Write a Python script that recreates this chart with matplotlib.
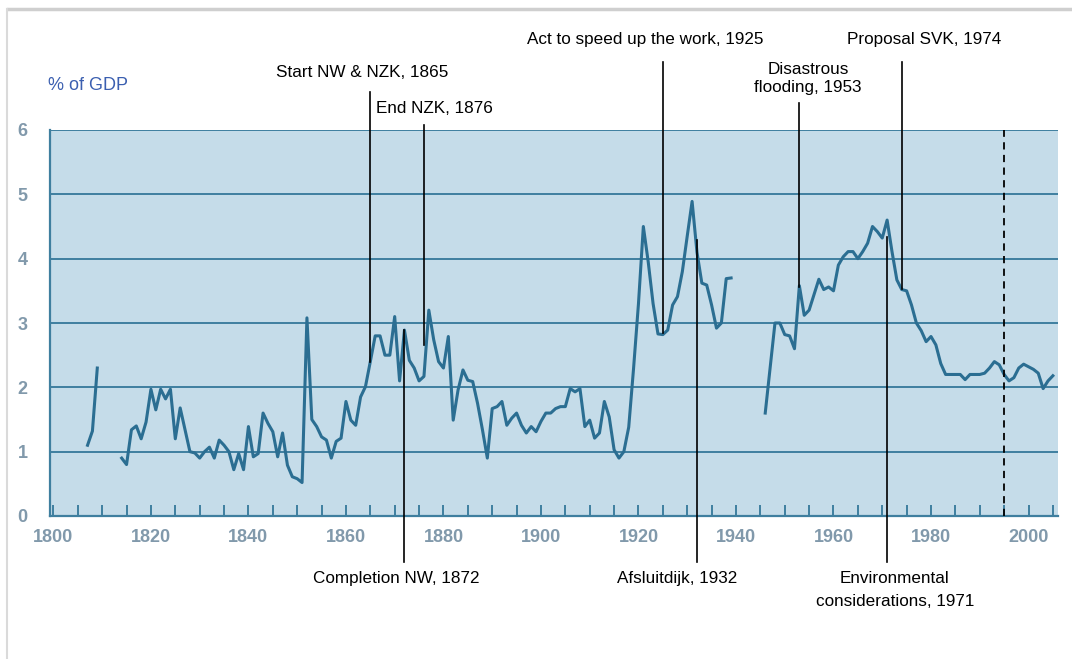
import numpy as np
import matplotlib.pyplot as plt
from matplotlib.lines import Line2D

# Dutch water-works spending, % of GDP
years_a = [1807, 1808, 1809]
vals_a = [1.1, 1.32, 2.3]

years_b = list(range(1814, 1940))
vals_b = [0.9, 0.8, 1.34, 1.4, 1.2, 1.46, 1.97, 1.65, 1.97, 1.82,   # 1814-1823
          1.97, 1.2, 1.68, 1.34, 1.0, 0.98, 0.9, 1.0, 1.07, 0.9,     # 1824-1833
          1.18, 1.1, 1.0, 0.72, 0.97, 0.72, 1.39, 0.92, 0.97, 1.6,   # 1834-1843
          1.44, 1.31, 0.92, 1.29, 0.79, 0.61, 0.58, 0.52, 3.08, 1.5, # 1844-1853
          1.39, 1.23, 1.18, 0.9, 1.16, 1.21, 1.78, 1.49, 1.41, 1.85, # 1854-1863
          2.01, 2.4, 2.8, 2.8, 2.5, 2.5, 3.1, 2.1, 2.89, 2.42,       # 1864-1873
          2.3, 2.1, 2.17, 3.2, 2.74, 2.4, 2.3, 2.79, 1.49, 1.96,     # 1874-1883
          2.27, 2.11, 2.09, 1.75, 1.34, 0.9, 1.67, 1.7, 1.78, 1.41,  # 1884-1893
          1.52, 1.6, 1.41, 1.29, 1.39, 1.31, 1.47, 1.6, 1.6, 1.67,   # 1894-1903
          1.7, 1.7, 1.98, 1.93, 1.98, 1.39, 1.49, 1.21, 1.29, 1.78,  # 1904-1913
          1.54, 1.03, 0.9, 1.0, 1.38, 2.3, 3.3, 4.5, 3.95, 3.3,      # 1914-1923
          2.83, 2.82, 2.89, 3.28, 3.41, 3.8, 4.35, 4.89, 4.1, 3.62,  # 1924-1933
          3.59, 3.28, 2.92, 3.0, 3.69, 3.7]                          # 1934-1939

years_c = list(range(1946, 2006))
vals_c = [1.6, 2.3, 3.0, 3.0, 2.82, 2.8, 2.6, 3.58, 3.12, 3.2,       # 1946-1955
          3.44, 3.68, 3.52, 3.56, 3.5, 3.9, 4.03, 4.11, 4.11, 4.0,   # 1956-1965
          4.11, 4.24, 4.5, 4.42, 4.32, 4.6, 4.11, 3.67, 3.52, 3.5,   # 1966-1975
          3.28, 3.0, 2.88, 2.71, 2.79, 2.66, 2.37, 2.2, 2.2, 2.2,    # 1976-1985
          2.2, 2.12, 2.2, 2.2, 2.2, 2.22, 2.3, 2.4, 2.35, 2.2,       # 1986-1995
          2.1, 2.15, 2.3, 2.36, 2.32, 2.28, 2.22, 1.98, 2.1, 2.18]   # 1996-2005

# events marked above the plot
top_labels = ["Start NW & NZK, 1865", "End NZK, 1876", "Act to speed up the work, 1925",
              "Disastrous\nflooding, 1953", "Proposal SVK, 1974"]
top_years = [1865, 1876, 1925, 1953, 1974]
top_hits = [2.4, 2.66, 2.84, 3.56, 3.53]   # where each line meets the series

# events marked below the plot
bot_labels = ["Completion NW, 1872", "Afsluitdijk, 1932", "Environmental\nconsiderations, 1971"]
bot_years = [1872, 1932, 1971]
bot_hits = [2.89, 4.29, 4.34]

forecast_year = 1995

# layout (data units) for the annotation text / line ends
top_line_tops = [6.59, 6.08, 7.06, 6.42, 7.06]
top_text_x = [1863.3, 1878.2, 1921.3, 1954.8, 1978.6]
top_text_y = [6.89, 6.34, 7.40, 6.80, 7.40]
bot_text_x = [1870.4, 1927.9, 1972.6]

bg = "#c5dce9"
grid_c = "#3f7f9f"
line_c = "#2b6e92"
tick_c = "#8199ab"

plt.rcParams['font.family'] = ['Liberation Sans', 'DejaVu Sans']

fig = plt.figure(figsize=(10.72, 6.59), dpi=100)
ax = fig.add_axes([50 / 1072, 1 - 516 / 659, 1008 / 1072, 386 / 659])
ax.set_facecolor(bg)

ax.set_xlim(1799.3, 2006.05)
ax.set_ylim(0, 6)

for y in range(1, 7):
    ax.axhline(y, color=grid_c, lw=1.4, zorder=1)

ax.plot(years_a, vals_a, color=line_c, lw=2.2, zorder=3, solid_joinstyle='round')
ax.plot(years_b, vals_b, color=line_c, lw=2.2, zorder=3, solid_joinstyle='round')
ax.plot(years_c, vals_c, color=line_c, lw=2.2, zorder=3, solid_joinstyle='round')

ax.axvline(forecast_year, color='black', lw=1.3, ls=(0, (4, 3)), zorder=4)

# annotation lines
for yr, hit, top in zip(top_years, top_hits, top_line_tops):
    ax.plot([yr, yr], [hit, top], color='black', lw=1.2, zorder=5, clip_on=False)
for yr, hit in zip(bot_years, bot_hits):
    ax.plot([yr, yr], [-0.72, hit], color='black', lw=1.2, zorder=5, clip_on=False)

for lab, x, y in zip(top_labels, top_text_x, top_text_y):
    ax.text(x, y, lab, ha='center', va='center', fontsize=12.3, color='black',
            linespacing=1.2, clip_on=False)
for lab, x in zip(bot_labels, bot_text_x):
    ax.text(x, -0.86, lab, ha='center', va='top', fontsize=12.3, color='black',
            linespacing=1.6, clip_on=False)

# axes styling
for s in ['top', 'right']:
    ax.spines[s].set_visible(False)
for s in ['left', 'bottom']:
    ax.spines[s].set_color(grid_c)
    ax.spines[s].set_linewidth(1.6)

ax.set_xticks(range(1800, 2001, 20))
ax.set_xticks(range(1805, 2006, 5), minor=True)
ax.tick_params(axis='x', which='both', direction='in', length=8, width=1.4,
               color=grid_c, labelcolor=tick_c, labelsize=13, pad=9)
ax.set_yticks(range(0, 7))
ax.tick_params(axis='y', length=0, labelcolor=tick_c, labelsize=13, pad=16)
for t in ax.get_xticklabels() + ax.get_yticklabels():
    t.set_fontweight('bold')

fig.text(48 / 1072, 1 - 85 / 659, "% of GDP", color="#3b5fb0", fontsize=13, va='center')

# grey frame around the picture
fig.add_artist(Line2D([8 / 1072, 1], [1 - 9 / 659, 1 - 9 / 659], color='#cfcfcf', lw=2.5))
fig.add_artist(Line2D([7 / 1072, 7 / 1072], [0, 1 - 9 / 659], color='#dadada', lw=1.5))

fig.savefig("out.png", dpi=100, facecolor='white')
